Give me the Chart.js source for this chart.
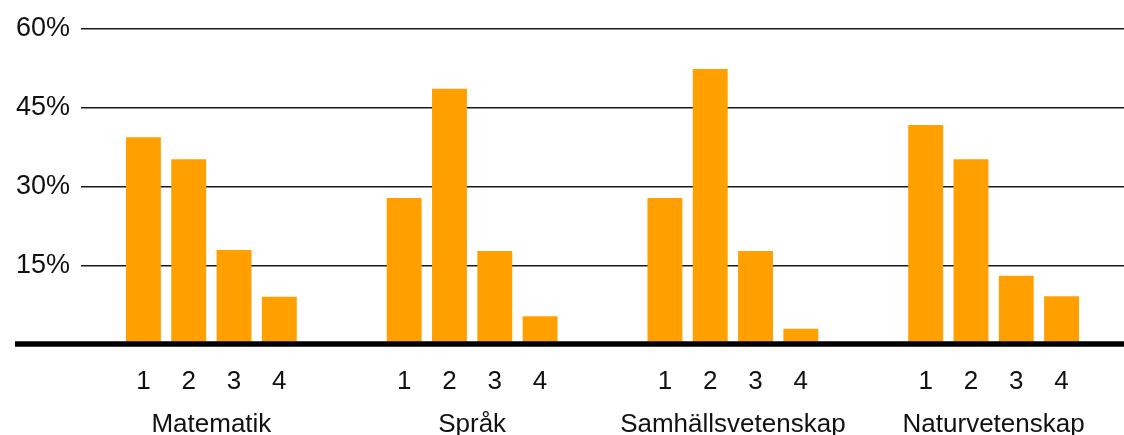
<!DOCTYPE html>
<html>
<head>
<meta charset="utf-8">
<script src="https://cdn.jsdelivr.net/npm/chart.js@4/dist/chart.umd.min.js"></script>
<style>
  html, body { margin: 0; padding: 0; background: #fff; }
</style>
</head>
<body>
<canvas id="chart" width="1124" height="435"></canvas>
<script>
// Values (percent)
var groups = ["Matematik", "Språk", "Samhällsvetenskap", "Naturvetenskap"];
var levels = ["1", "2", "3", "4"];
var level1 = [39.4, 27.8, 27.8, 41.7];
var level2 = [35.2, 48.6, 52.4, 35.2];
var level3 = [17.9, 17.7, 17.7, 13.0];
var level4 = [9.0, 5.3, 2.9, 9.1];
var yTicks = [15, 30, 45, 60];

var barColor = "#ff9f00";
var fontFamily = "'Liberation Sans', Arial, sans-serif";

// Draw the level number under each bar, and the thick zero line
var levelLabels = {
    id: "levelLabels",
    afterDatasetsDraw: function (chart) {
        var ctx = chart.ctx;
        var y0 = chart.scales.y.getPixelForValue(0);
        ctx.save();
        ctx.strokeStyle = "#000";
        ctx.lineWidth = 5.5;
        ctx.beginPath();
        ctx.moveTo(15, y0);
        ctx.lineTo(chart.width, y0);
        ctx.stroke();

        ctx.fillStyle = "#111";
        ctx.font = "26px " + fontFamily;
        ctx.textAlign = "center";
        ctx.textBaseline = "middle";
        chart.data.datasets.forEach(function (ds, i) {
            chart.getDatasetMeta(i).data.forEach(function (bar) {
                ctx.fillText(ds.label, bar.x, y0 + 38);
            });
        });
        ctx.restore();
    }
};

var ctx = document.getElementById("chart").getContext("2d");

new Chart(ctx, {
    type: "bar",
    data: {
        labels: groups,
        datasets: [level1, level2, level3, level4].map(function (vals, i) {
            return {
                label: levels[i],
                data: vals,
                backgroundColor: barColor,
                categoryPercentage: 0.695,
                barPercentage: 0.77
            };
        })
    },
    options: {
        responsive: false,
        animation: false,
        layout: { padding: { top: 29, left: 0, right: 0, bottom: 0 } },
        plugins: {
            legend: { display: false },
            tooltip: { enabled: false }
        },
        scales: {
            x: {
                grid: { display: false },
                border: { display: false },
                ticks: {
                    color: "#111",
                    font: { size: 26, family: fontFamily },
                    padding: 57,
                    maxRotation: 0
                },
                afterFit: function (scale) {
                    scale.height = 91;
                    scale.paddingLeft = 0;
                    scale.paddingRight = 0;
                }
            },
            y: {
                min: 0,
                max: 60,
                afterBuildTicks: function (scale) {
                    scale.ticks = [0].concat(yTicks).map(function (v) { return { value: v }; });
                },
                grid: { color: "#1a1a1a", lineWidth: 1.5, drawTicks: false },
                border: { display: false },
                ticks: {
                    color: "#111",
                    font: { size: 27, family: fontFamily },
                    padding: 11,
                    callback: function (v) { return v === 0 ? "" : v + "%"; }
                },
                afterFit: function (scale) { scale.width = 81; }
            }
        }
    },
    plugins: [levelLabels]
});
</script>
</body>
</html>
